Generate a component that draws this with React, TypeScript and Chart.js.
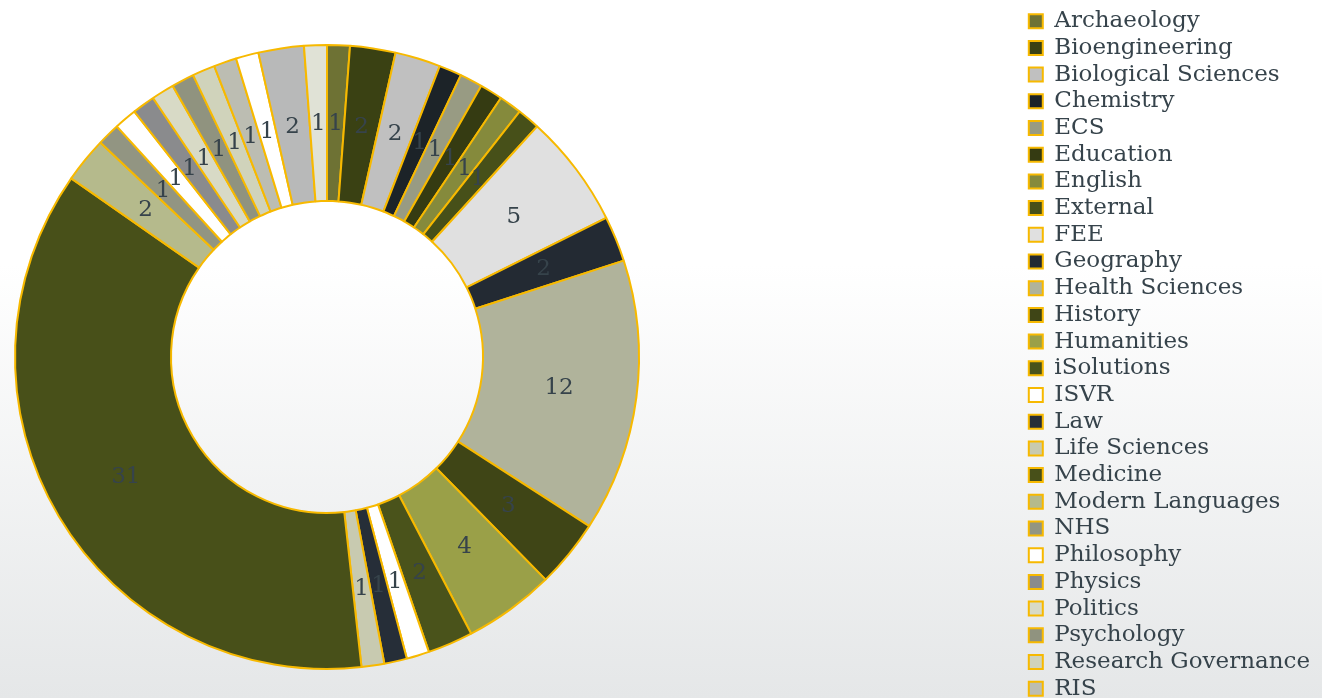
import React, { useEffect, useRef } from "react";
import { Chart, registerables } from "chart.js";

Chart.register(...registerables);

const departments = [
  "Archaeology", "Bioengineering", "Biological Sciences", "Chemistry", "ECS",
  "Education", "English", "External", "FEE", "Geography", "Health Sciences",
  "History", "Humanities", "iSolutions", "ISVR", "Law", "Life Sciences",
  "Medicine", "Modern Languages", "NHS", "Philosophy", "Physics", "Politics",
  "Psychology", "Research Governance", "RIS", "Social Sciences",
  "Student Services", "WSA",
];

const counts = [
  1, 2, 2, 1, 1, 1, 1, 1, 5, 2, 12, 3, 4, 2, 1, 1, 1, 31, 2, 1, 1, 1, 1, 1, 1, 1,
  1, 2, 1,
];

const sliceColors = [
  "#6e7234", "#3a4113", "#c0c0c0", "#1c2328", "#989b83", "#353b12", "#858a3c",
  "#475019", "#e0e0e0", "#232a33", "#b0b39b", "#3f4516", "#9aa048", "#4a531b",
  "#ffffff", "#262e38", "#c8cab0", "#485019", "#b5ba8c", "#929582", "#ffffff",
  "#8a8b8d", "#d8dac6", "#90937f", "#d0d3bb", "#bcbdb2", "#ffffff", "#b8b9b9",
  "#e0e2d6",
];

const FONT = "Georgia, 'DejaVu Serif', serif";
const TEXT_COLOR = "#36434b";
const BORDER_COLOR = "#f7b900";
const RING_AREA = { left: 14, top: 44, right: 640, bottom: 670 };

const ringAreaPlugin = {
  id: "ringArea",
  afterLayout(chart: any) {
    const a = chart.chartArea;
    a.left = RING_AREA.left;
    a.top = RING_AREA.top;
    a.right = RING_AREA.right;
    a.bottom = RING_AREA.bottom;
    a.width = RING_AREA.right - RING_AREA.left;
    a.height = RING_AREA.bottom - RING_AREA.top;
  },
};

const sliceLabelPlugin = {
  id: "sliceLabels",
  afterDatasetsDraw(chart: any) {
    const { ctx } = chart;
    const meta = chart.getDatasetMeta(0);
    const values = chart.data.datasets[0].data as number[];
    ctx.save();
    ctx.font = `23px ${FONT}`;
    ctx.fillStyle = TEXT_COLOR;
    ctx.textAlign = "center";
    ctx.textBaseline = "middle";
    meta.data.forEach((arc: any, i: number) => {
      const p = arc.tooltipPosition();
      ctx.fillText(String(values[i]), p.x, p.y + 1);
    });
    ctx.restore();
  },
};

export default function App() {
  const canvasRef = useRef<HTMLCanvasElement | null>(null);

  useEffect(() => {
    if (!canvasRef.current) return;
    const chart = new Chart(canvasRef.current, {
      type: "doughnut",
      data: {
        labels: departments,
        datasets: [
          {
            data: counts,
            backgroundColor: sliceColors,
            borderColor: BORDER_COLOR,
            borderWidth: 2,
            clip: false as any,
          },
        ],
      },
      options: {
        animation: false,
        responsive: true,
        maintainAspectRatio: false,
        events: [],
        cutout: "50%",
        layout: { padding: { top: 6, right: 2, left: 0, bottom: 0 } },
        plugins: {
          tooltip: { enabled: false },
          legend: {
            position: "right",
            align: "start",
            labels: {
              boxWidth: 14,
              boxHeight: 14,
              padding: 3.7,
              color: TEXT_COLOR,
              font: { family: FONT, size: 23 },
            },
          },
        },
      },
      plugins: [ringAreaPlugin, sliceLabelPlugin],
    });
    return () => chart.destroy();
  }, []);

  return (
    <div
      style={{
        position: "fixed",
        left: 0,
        top: 0,
        width: "100vw",
        height: "100vh",
        overflow: "hidden",
        background: "linear-gradient(to bottom, #ffffff 0%, #ffffff 38%, #e5e7e8 100%)",
      }}
    >
      <div style={{ position: "absolute", left: 0, top: 0, width: 1322, height: 820 }}>
        <canvas ref={canvasRef} />
      </div>
    </div>
  );
}
